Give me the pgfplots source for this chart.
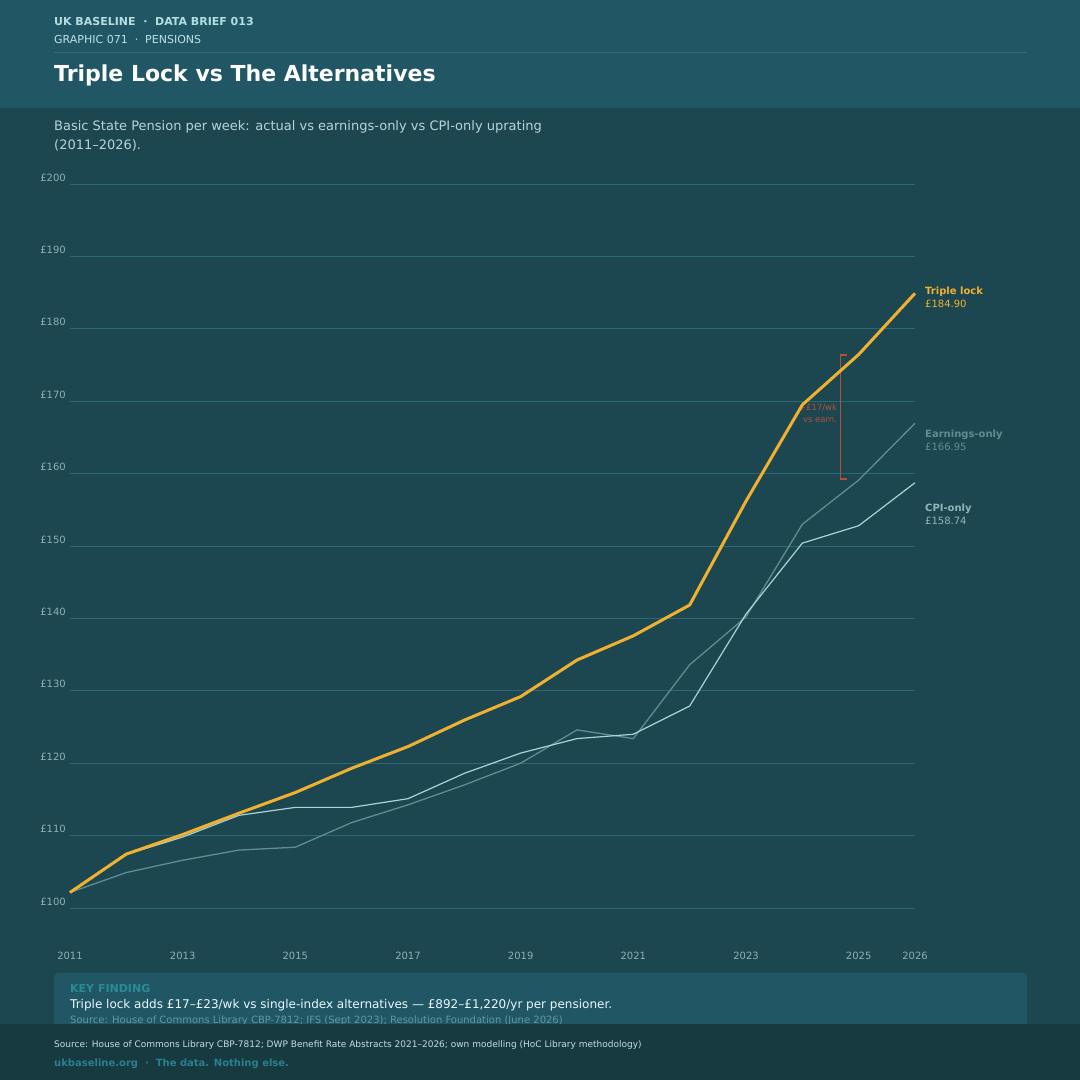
\documentclass[border=0pt]{standalone}
\usepackage{pgfplots}
\pgfplotsset{compat=1.18}
\usepackage{fontspec}
\setmainfont{DejaVu Sans}
\definecolor{hdr}{HTML}{215765}
\definecolor{bgmain}{HTML}{1D4750}
\definecolor{foot}{HTML}{173940}
\definecolor{hdrline}{HTML}{2E6E78}
\definecolor{gridc}{HTML}{2C6A73}
\definecolor{tickc}{HTML}{8CB0B5}
\definecolor{tl}{HTML}{F0B030}
\definecolor{earnc}{HTML}{5E8D91}
\definecolor{cpic}{HTML}{A8D4D8}
\definecolor{cpilab}{HTML}{90B6BA}
\definecolor{redc}{HTML}{B5503A}
\definecolor{kfc}{HTML}{2A8A95}
\definecolor{boxsrc}{HTML}{5D9AA3}
\definecolor{subc}{HTML}{B8D4D8}
\definecolor{hdrtxt}{HTML}{B5DDE0}
\definecolor{footsrc}{HTML}{C8DCDF}
\definecolor{footurl}{HTML}{2A8090}
\pgfplotstableread{
year tl earn cpi
2011 102.15 102.15 102.15
2012 107.45 104.9 107.4
2013 110.15 106.6 109.8
2014 113.10 108.0 112.8
2015 115.95 108.4 113.9
2016 119.30 111.8 113.9
2017 122.30 114.25 115.1
2018 125.95 117.0 118.6
2019 129.20 120.0 121.4
2020 134.25 124.6 123.4
2021 137.60 123.4 124.0
2022 141.85 133.6 127.9
2023 156.20 140.2 140.6
2024 169.50 153.0 150.4
2025 176.45 159.1 152.8
2026 184.90 166.95 158.74
}\pens
\begin{document}
\begin{tikzpicture}[x=1pt,y=1pt]
\path[use as bounding box] (0,0) rectangle (1080,-1080);
\fill[bgmain] (0,0) rectangle (1080,-1080);
\fill[hdr] (0,0) rectangle (1080,-108);
\draw[hdrline, line width=0.8pt] (54,-52) -- (1027,-52);
\node[anchor=base west, inner sep=0pt, text=hdrtxt, font=\fontsize{11}{13}\selectfont\bfseries] at (54,-25) {UK BASELINE \ ·\ \ DATA BRIEF 013};
\node[anchor=base west, inner sep=0pt, text=hdrtxt!90!white, font=\fontsize{11}{13}\selectfont] at (54,-43) {GRAPHIC 071 \ ·\ \ PENSIONS};
\node[anchor=base west, inner sep=0pt, text=white, font=\fontsize{22}{26}\selectfont\bfseries] at (54,-81) {Triple Lock vs The Alternatives};
\node[anchor=base west, inner sep=0pt, text=subc, font=\fontsize{13}{19.5}\selectfont] at (54,-130) {Basic State Pension per week: actual vs earnings-only vs CPI-only uprating};
\node[anchor=base west, inner sep=0pt, text=subc, font=\fontsize{13}{19.5}\selectfont] at (54,-149) {(2011--2026).};
\begin{axis}[at={(70pt,-908pt)}, anchor=south west, scale only axis,
  width=845pt, height=724pt, xmin=2011, xmax=2026, ymin=100, ymax=200,
  clip=false, axis line style={draw=none}, major tick style={draw=none},
  ytick={100,110,...,200},
  yticklabels={£100,£110,£120,£130,£140,£150,£160,£170,£180,£190,£200},
  xtick={2011,2013,2015,2017,2019,2021,2023,2025,2026},
  xticklabels={2011,2013,2015,2017,2019,2021,2023,2025,2026},
  ymajorgrids, grid style={color=gridc, line width=0.9pt},
  tick label style={font=\fontsize{10}{12}\selectfont, text=tickc, inner sep=0pt},
  xticklabel style={anchor=base, yshift=-51pt},
  yticklabel style={anchor=base east, xshift=-4pt, yshift=3pt},
]
\node[anchor=base east, inner sep=0pt, text=redc, font=\fontsize{8.5}{10}\selectfont] at (axis cs:2024.62,168.76) {+£17/wk};
\node[anchor=base east, inner sep=0pt, text=redc, font=\fontsize{8.5}{10}\selectfont] at (axis cs:2024.62,167.1) {vs earn.};
\addplot[redc, line width=1.6pt] coordinates {(2024.79,176.4) (2024.68,176.4) (2024.68,159.25) (2024.79,159.25)};
\addplot[earnc, line width=1.3pt] table[x=year, y=earn] {\pens};
\addplot[cpic, line width=1.2pt] table[x=year, y=cpi] {\pens};
\addplot[tl, line width=3pt, line join=round] table[x=year, y=tl] {\pens};
\end{axis}
\node[anchor=base west, inner sep=0pt, text=tl, font=\fontsize{10}{11}\selectfont\bfseries] at (925,-294) {Triple lock};
\node[anchor=base west, inner sep=0pt, text=tl, font=\fontsize{10}{11}\selectfont] at (925,-307) {£184.90};
\node[anchor=base west, inner sep=0pt, text=earnc, font=\fontsize{10}{11}\selectfont\bfseries] at (925,-437) {Earnings-only};
\node[anchor=base west, inner sep=0pt, text=earnc, font=\fontsize{10}{11}\selectfont] at (925,-450) {£166.95};
\node[anchor=base west, inner sep=0pt, text=cpilab, font=\fontsize{10}{11}\selectfont\bfseries] at (925,-511) {CPI-only};
\node[anchor=base west, inner sep=0pt, text=cpilab, font=\fontsize{10}{11}\selectfont] at (925,-524) {£158.74};
\fill[hdr, rounded corners=4pt] (54,-973) rectangle (1027,-1045);
\node[anchor=base west, inner sep=0pt, text=kfc, font=\fontsize{11}{13}\selectfont\bfseries] at (70,-992) {KEY FINDING};
\node[anchor=base west, inner sep=0pt, text=white!92!cyan, font=\fontsize{12}{15}\selectfont] at (70,-1008) {Triple lock adds £17–£23/wk vs single-index alternatives — £892–£1,220/yr per pensioner.};
\node[anchor=base west, inner sep=0pt, text=boxsrc, font=\fontsize{10}{11}\selectfont] at (70,-1023.5) {Source: House of Commons Library CBP-7812; IFS (Sept 2023); Resolution Foundation (June 2026)};
\fill[foot] (0,-1024) rectangle (1080,-1080);
\node[anchor=base west, inner sep=0pt, text=footsrc, font=\fontsize{9}{11}\selectfont] at (54,-1047) {Source: House of Commons Library CBP-7812; DWP Benefit Rate Abstracts 2021–2026; own modelling (HoC Library methodology)};
\node[anchor=base west, inner sep=0pt, text=footurl, font=\fontsize{10}{12}\selectfont\bfseries] at (54,-1066) {ukbaseline.org \ ·\ \ The data. Nothing else.};
\end{tikzpicture}
\end{document}
